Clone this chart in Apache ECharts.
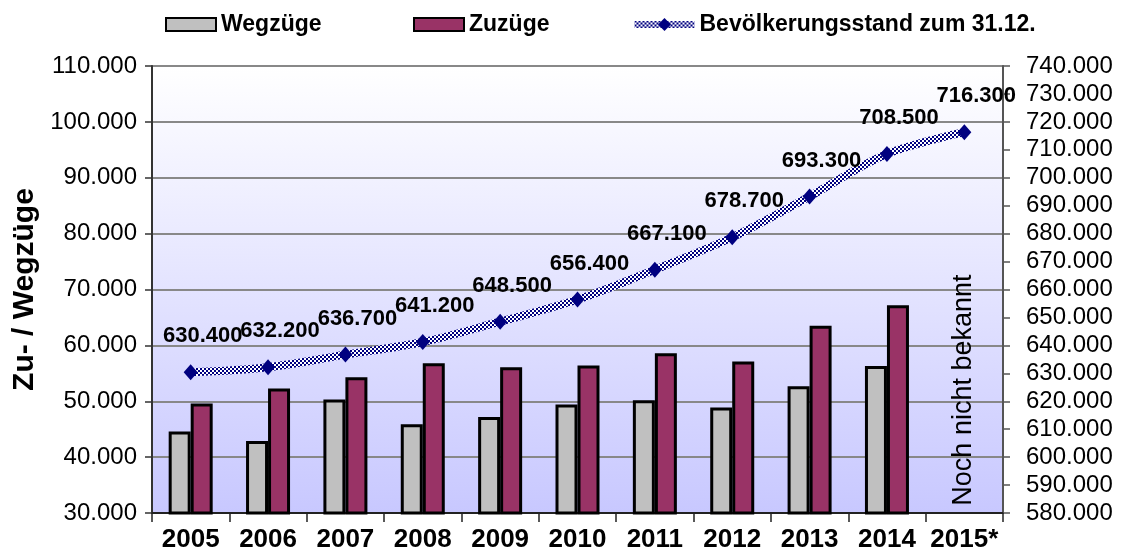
<!DOCTYPE html>
<html lang="de">
<head>
    <meta charset="UTF-8">
    <script type="text/javascript" src="https://cdn.jsdelivr.net/npm/echarts@6/dist/echarts.min.js"></script>
    <style>
        html, body { margin: 0; padding: 0; background: #ffffff; }
        #chart { width: 1127px; height: 559px; }
    </style>
</head>
<body>
    <div id="chart"></div>
</body>

<script>
    // Daten
    var jahre = ["2005", "2006", "2007", "2008", "2009", "2010", "2011", "2012", "2013", "2014", "2015*"];
    var wegzuege = [44600, 42900, 50300, 45900, 47200, 49400, 50200, 48900, 52700, 56300, null];
    var zuzuege = [49600, 52300, 54300, 56800, 56100, 56400, 58600, 57100, 63500, 67200, null];
    var bevoelkerung = [630400, 632200, 636700, 641200, 648500, 656400, 667100, 678700, 693300, 708500, 716300];
    var hinweisText = "Noch nicht bekannt";

    var schrift = "'Liberation Sans', Arial, sans-serif";

    // Schachbrett-Muster fuer die Linie
    var muster = document.createElement("canvas");
    muster.width = 4;
    muster.height = 4;
    var mctx = muster.getContext("2d");
    mctx.fillStyle = "#ffffff";
    mctx.fillRect(0, 0, 4, 4);
    mctx.fillStyle = "#000080";
    mctx.fillRect(0, 0, 2, 2);
    mctx.fillRect(2, 2, 2, 2);
    var musterFarbe = { image: muster, repeat: "repeat" };

    function tausender(v) {
        return (v / 1000).toFixed(3);
    }

    var legendText = { fontFamily: schrift, fontSize: 23, fontWeight: "bold", color: "#000" };

    var chart = echarts.init(document.getElementById("chart"));

    var option = {
        animation: false,
        legend: [
            { data: ["Wegzüge"], left: 160, top: 8, itemWidth: 50, itemHeight: 13, icon: "rect", textStyle: legendText },
            { data: ["Zuzüge"], left: 408, top: 8, itemWidth: 50, itemHeight: 13, icon: "rect", textStyle: legendText },
            {
                data: ["Bevölkerungsstand zum 31.12."], left: 626, top: 8, itemWidth: 60, itemHeight: 16,
                lineStyle: { width: 7, color: musterFarbe },
                textStyle: legendText
            }
        ],
        grid: {
            left: 152, right: 124, top: 66, bottom: 46,
            show: true,
            borderWidth: 0,
            backgroundColor: new echarts.graphic.LinearGradient(0, 0, 0, 1, [
                { offset: 0, color: "#ffffff" },
                { offset: 1, color: "#c8c8ff" }
            ])
        },
        xAxis: {
            type: "category",
            data: jahre,
            axisLine: { lineStyle: { color: "#222", width: 2 } },
            axisTick: { show: true, interval: 0, length: 9, lineStyle: { color: "#222", width: 1.5 } },
            axisLabel: { interval: 0, margin: 14, fontFamily: schrift, fontSize: 26, fontWeight: "bold", color: "#000" }
        },
        yAxis: [
            {
                type: "value",
                min: 30000, max: 110000, interval: 10000,
                name: "Zu- / Wegzüge",
                nameLocation: "middle",
                nameGap: 99,
                nameTextStyle: { fontFamily: schrift, fontSize: 30, fontWeight: "bold", color: "#000" },
                axisLine: { show: true, lineStyle: { color: "#333", width: 2 } },
                axisTick: { show: true, length: 7, lineStyle: { color: "#333", width: 1.5 } },
                axisLabel: { margin: 15, fontFamily: schrift, fontSize: 24, color: "#000", formatter: tausender },
                splitLine: { show: true, lineStyle: { color: "#888", width: 2 } }
            },
            {
                type: "value",
                min: 580000, max: 740000, interval: 10000,
                position: "right",
                axisLine: { show: true, lineStyle: { color: "#555", width: 2 } },
                axisTick: { show: true, length: 7, lineStyle: { color: "#555", width: 1.5 } },
                axisLabel: { margin: 23, fontFamily: schrift, fontSize: 24, color: "#000", formatter: tausender },
                splitLine: { show: false }
            }
        ],
        series: [
            {
                name: "Wegzüge",
                type: "bar",
                data: wegzuege,
                barWidth: 22,
                barGap: "0%",
                itemStyle: { color: "#c0c0c0", borderColor: "#000", borderWidth: 3 }
            },
            {
                name: "Zuzüge",
                type: "bar",
                data: zuzuege,
                barWidth: 22,
                barGap: "0%",
                itemStyle: { color: "#993366", borderColor: "#000", borderWidth: 3 }
            },
            {
                name: "Bevölkerungsstand zum 31.12.",
                type: "line",
                yAxisIndex: 1,
                data: bevoelkerung,
                smooth: 0.35,
                symbol: "diamond",
                symbolSize: [14, 16],
                itemStyle: { color: "#000080" },
                lineStyle: { width: 8, color: musterFarbe },
                label: {
                    show: true,
                    position: "top",
                    offset: [12, -12],
                    fontFamily: schrift,
                    fontSize: 22,
                    fontWeight: "bold",
                    color: "#000",
                    formatter: function (p) { return tausender(p.value); }
                },
                z: 5
            }
        ]
    };

    chart.setOption(option);

    // Hinweis im Jahr 2015 (Position ueber die Achsen bestimmt)
    var hx = chart.convertToPixel({ xAxisIndex: 0 }, "2015*");
    var hy = chart.convertToPixel({ yAxisIndex: 0 }, 52000);
    chart.setOption({
        graphic: [{
            type: "text",
            x: hx - 1,
            y: hy,
            rotation: Math.PI / 2,
            style: {
                text: hinweisText,
                fontFamily: schrift,
                fontSize: 27,
                fill: "#000",
                align: "center",
                verticalAlign: "middle"
            },
            z: 10
        }]
    });
</script>
</html>
